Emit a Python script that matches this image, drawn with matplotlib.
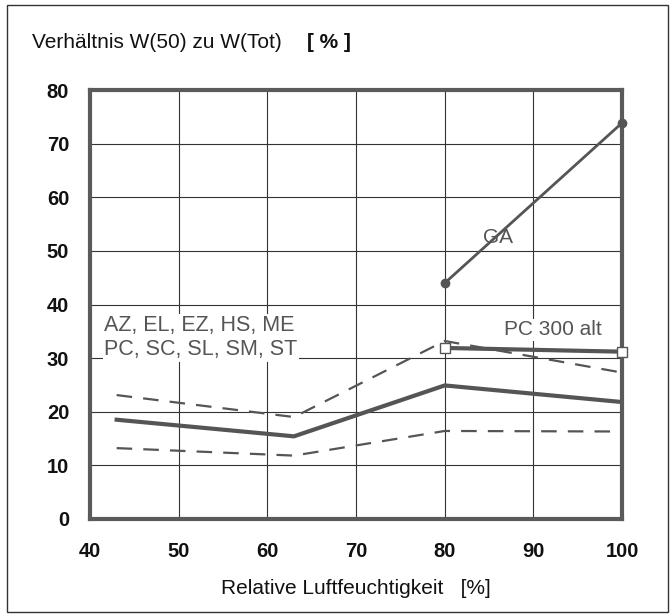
import matplotlib.pyplot as plt
import numpy as np
from matplotlib.patches import Rectangle

plt.rcParams['font.family'] = ['Liberation Sans', 'DejaVu Sans']

# data
rh_main = [43, 63, 80, 100]
mean_all = [18.5, 15.4, 24.9, 21.8]
upper_all = [23.1, 19.0, 33.2, 27.3]
lower_all = [13.2, 11.8, 16.4, 16.3]

rh_ga = [80, 100]
ga = [44.0, 73.9]

rh_pc = [80, 100]
pc300 = [31.9, 31.2]

xticks = [40, 50, 60, 70, 80, 90, 100]
yticks = [0, 10, 20, 30, 40, 50, 60, 70, 80]

c = '#555555'

fig = plt.figure(figsize=(6.72, 6.14), dpi=100)
ax = fig.add_axes([0.134, 0.155, 0.7916, 0.698])

ax.plot(rh_main, upper_all, '--', color=c, lw=1.6, dashes=(7, 5))
ax.plot(rh_main, lower_all, '--', color=c, lw=1.6, dashes=(7, 5))
ax.plot(rh_main, mean_all, '-', color=c, lw=3)
ax.plot(rh_ga, ga, '-o', color=c, lw=2, ms=6, clip_on=False, zorder=5)
ax.plot(rh_pc, pc300, '-s', color=c, lw=3, ms=7, mfc='white', mec=c, mew=1,
        clip_on=False, zorder=5)

ax.set_xlim(40, 100)
ax.set_ylim(0, 80)
ax.set_xticks(xticks)
ax.set_yticks(yticks)
ax.tick_params(length=0, labelsize=14.5, labelcolor='#111111')
ax.tick_params(axis='x', pad=17)
ax.tick_params(axis='y', pad=15)
for lab in ax.get_xticklabels() + ax.get_yticklabels():
    lab.set_fontweight('bold')
ax.grid(True, color='#333333', lw=0.8)
for s in ax.spines.values():
    s.set_color('#5a5a5a')
    s.set_linewidth(3)

ax.text(86, 52.5, 'GA', fontsize=15, color=c, ha='center', va='center',
        bbox=dict(fc='white', ec='none', pad=1))
ax.text(92.2, 35.3, 'PC 300 alt', fontsize=15, color=c, ha='center', va='center',
        bbox=dict(fc='white', ec='none', pad=1))
ax.text(41.6, 33.8, 'AZ, EL, EZ, HS, ME\nPC, SC, SL, SM, ST', fontsize=15.5,
        color=c, ha='left', va='center', linespacing=1.2,
        bbox=dict(fc='white', ec='none', pad=1))

fig.text(0.048, 0.93, 'Verhältnis W(50) zu W(Tot)', fontsize=15, va='center',
         color='#111111')
fig.text(0.457, 0.93, '[ % ]', fontsize=15, va='center', fontweight='bold',
         color='#111111')
ax.set_xlabel('Relative Luftfeuchtigkeit   [%]', fontsize=15, labelpad=13,
              color='#111111')

fig.patches.append(Rectangle((0.011, 0.004), 0.983, 0.988, transform=fig.transFigure,
                             fill=False, ec='#333333', lw=1))

fig.savefig('out.png', dpi=100)
